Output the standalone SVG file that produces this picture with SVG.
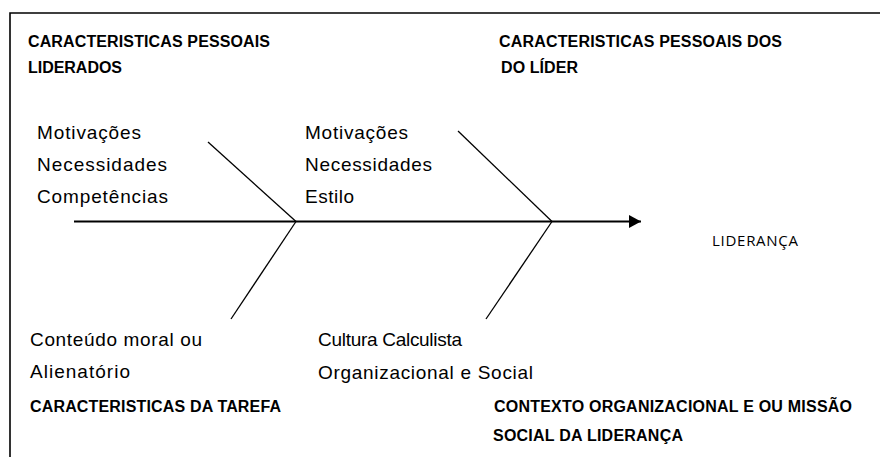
<svg xmlns="http://www.w3.org/2000/svg" width="880" height="457" viewBox="0 0 880 457">
<style>
.h{font-family:"Liberation Sans",Arial,sans-serif;font-size:16px;font-weight:bold;fill:#000}
.t{font-family:"Liberation Sans",Arial,sans-serif;font-size:19px;fill:#000}
.e{font-family:"Open Sans","Noto Sans",sans-serif;font-size:15px;fill:#000}
.bone{stroke:#000;stroke-width:1.3;fill:none}
.spine{stroke:#000;stroke-width:2;fill:none}
</style>
<defs>
<marker id="ah" markerUnits="userSpaceOnUse" markerWidth="14" markerHeight="14" refX="12" refY="7" orient="auto">
<path d="M0,0.5 L12,7 L0,13.5 Z" fill="#000"/>
</marker>
</defs>
<rect width="880" height="457" fill="#fff"/>
<g id="frame">
<path d="M10,457 V13 H880" stroke="#000" stroke-width="1.6" fill="none"/>
</g>
<g id="connectors">
<line class="spine" x1="74" y1="221.5" x2="641" y2="221.5" marker-end="url(#ah)"/>
<line class="bone" x1="208" y1="142" x2="296" y2="221.5"/>
<line class="bone" x1="296" y1="221.5" x2="231" y2="319"/>
<line class="bone" x1="458" y1="131" x2="552" y2="221.5"/>
<line class="bone" x1="552" y1="221.5" x2="486" y2="319"/>
</g>
<g id="header-liderados">
<text class="h" x="28" y="47" textLength="242">CARACTERISTICAS PESSOAIS</text>
<text class="h" x="28" y="73" textLength="94">LIDERADOS</text>
</g>
<g id="header-lider">
<text class="h" x="499" y="47" textLength="283">CARACTERISTICAS PESSOAIS DOS</text>
<text class="h" x="501" y="73" textLength="77">DO LÍDER</text>
</g>
<g id="items-liderados">
<text class="t" x="37" y="139" textLength="104">Motivações</text>
<text class="t" x="37" y="171" textLength="130">Necessidades</text>
<text class="t" x="37" y="203" textLength="131">Competências</text>
</g>
<g id="items-lider">
<text class="t" x="305" y="139" textLength="103">Motivações</text>
<text class="t" x="305" y="171" textLength="127">Necessidades</text>
<text class="t" x="305" y="203" textLength="49">Estilo</text>
</g>
<g id="effect">
<text class="e" x="712" y="246" textLength="86">LIDERANÇA</text>
</g>
<g id="items-tarefa">
<text class="t" x="30" y="346" textLength="172">Conteúdo moral ou</text>
<text class="t" x="30" y="378" textLength="100">Alienatório</text>
</g>
<g id="header-tarefa">
<text class="h" x="30" y="412" textLength="251">CARACTERISTICAS DA TAREFA</text>
</g>
<g id="items-contexto">
<text class="t" x="318" y="346" textLength="144">Cultura Calculista</text>
<text class="t" x="318" y="379" textLength="215">Organizacional e Social</text>
</g>
<g id="header-contexto">
<text class="h" x="494" y="412" textLength="358">CONTEXTO ORGANIZACIONAL E OU MISSÃO</text>
<text class="h" x="493" y="441" textLength="190">SOCIAL DA LIDERANÇA</text>
</g>
</svg>
